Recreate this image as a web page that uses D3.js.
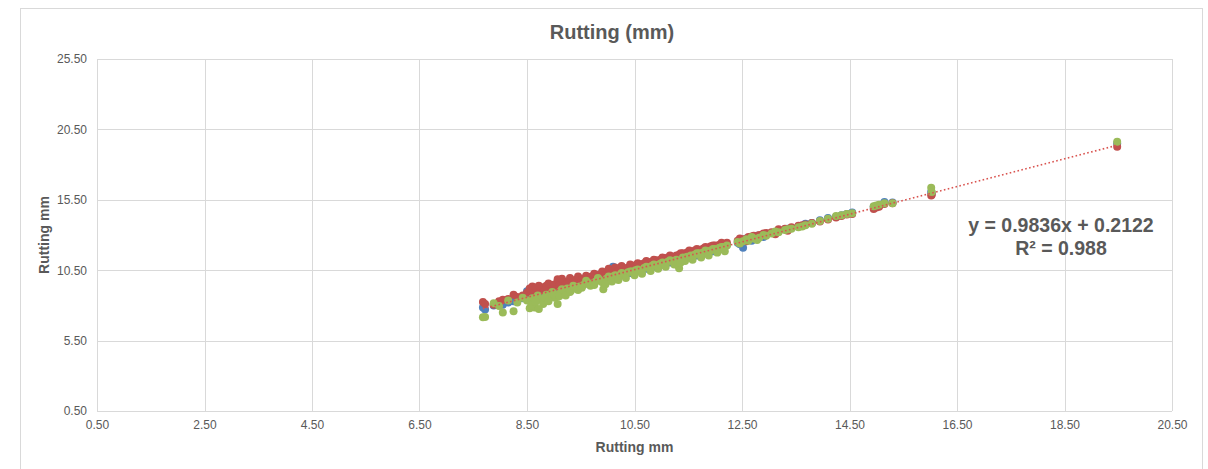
<!DOCTYPE html>
<html>
<head>
<meta charset="utf-8">
<script src="https://cdn.jsdelivr.net/npm/d3@7"></script>
<style>
  body { margin: 0; background: #fff; }
  svg { display: block; font-family: "Liberation Sans", Arial, sans-serif; }
</style>
</head>
<body>
<div id="chart"></div>
<script>
// shared x values (Rutting mm)
const xs = [7.68, 7.72, 7.88, 7.98, 8.05, 8.15, 8.25, 8.32, 8.42, 8.55, 8.60, 8.64, 8.70, 8.75, 8.80, 8.86, 8.92, 8.97,
  9.02, 9.07, 9.12, 9.18, 9.25, 9.32, 9.40, 9.48, 9.55, 9.62, 9.70, 9.78, 9.85, 9.92, 9.98, 10.05, 10.10, 10.16,
  10.22, 10.30, 10.38, 10.45, 10.52, 10.60, 10.68, 10.75, 10.82, 10.90, 10.98, 11.05, 11.12, 11.20, 11.28, 11.33,
  11.40, 11.48, 11.55, 11.62, 11.70, 11.78, 11.85, 11.92, 12.00, 12.08, 12.15, 12.22, 12.42, 12.52, 12.62, 12.72,
  12.82, 12.95, 13.05, 13.18, 13.30, 13.42, 13.55, 13.68, 13.80, 13.95, 14.10, 14.25, 14.45, 14.55, 14.95, 15.05,
  15.15, 15.30, 16.02, 16.03, 19.48,
  8.50, 8.58, 8.66, 8.72, 8.83, 8.90, 9.00, 9.10, 9.15, 9.22, 9.30, 9.36, 9.45, 9.52, 9.60, 9.68, 9.75, 9.82,
  9.90, 9.96, 10.02, 10.08, 10.14, 10.20, 10.26, 10.34, 10.42, 10.50, 10.56, 10.64, 10.72, 10.80, 10.86, 10.94,
  11.02, 11.08, 11.16, 11.24, 11.36, 11.44, 11.52, 11.58, 11.66, 11.74, 11.82, 11.88, 11.96, 12.04, 12.12, 12.18,
  12.46, 12.58, 12.68, 12.78, 12.90, 13.12, 13.35, 13.62, 14.35, 15.00];

const blueY = [7.85, 7.70, 8.00, 8.10, 8.05, 8.20, 8.30, 8.45, 8.50, 8.70, 8.55, 8.80, 8.90, 8.75, 9.00, 8.95, 9.10, 9.05,
  9.20, 9.10, 9.35, 9.30, 9.45, 9.40, 9.55, 9.60, 9.75, 9.70, 9.85, 9.95, 9.90, 10.05, 10.15, 10.20, 10.75, 10.30,
  10.35, 10.45, 10.50, 10.60, 10.65, 10.70, 10.85, 10.90, 10.95, 11.05, 11.10, 11.20, 11.25, 11.30, 11.40, 11.45,
  11.50, 11.60, 11.65, 11.70, 11.80, 11.90, 11.95, 12.05, 12.10, 12.15, 12.20, 12.30, 12.45, 12.10, 12.70, 12.80,
  12.90, 13.05, 13.15, 13.25, 13.40, 13.50, 13.60, 13.80, 13.85, 14.05, 14.20, 14.30, 14.50, 14.60, 15.00, 15.10,
  15.35, 15.30, 16.05, 15.95, 19.50,
  9.00, 8.40, 9.10, 8.60, 9.15, 8.70, 9.30, 9.55, 9.00, 9.65, 9.20, 9.70, 9.40, 9.90, 9.55, 10.00, 9.60, 10.10,
  9.75, 10.25, 9.85, 10.40, 10.05, 10.55, 10.15, 10.60, 10.30, 10.70, 10.45, 10.90, 10.60, 11.05, 10.75, 11.15,
  10.90, 11.30, 11.05, 11.45, 11.30, 11.60, 11.40, 11.75, 11.55, 11.90, 11.70, 12.05, 11.85, 12.15, 12.00, 12.30,
  12.35, 12.75, 12.60, 12.95, 12.85, 13.20, 13.45, 13.65, 14.40, 15.05];

const redY = [8.25, 8.10, 8.05, 8.30, 8.40, 8.45, 8.75, 8.60, 8.70, 9.20, 9.35, 8.95, 9.10, 9.30, 9.25, 9.40, 9.20, 9.45,
  9.50, 9.85, 9.55, 9.70, 9.60, 9.75, 9.80, 9.90, 9.85, 10.00, 10.05, 10.10, 10.20, 10.30, 10.25, 10.45, 10.40, 10.50,
  10.55, 10.60, 10.70, 10.75, 10.85, 10.90, 11.00, 11.05, 11.10, 11.20, 11.25, 11.30, 11.40, 11.45, 11.55, 11.60,
  11.70, 11.75, 11.80, 11.90, 11.95, 12.05, 12.10, 12.20, 12.25, 12.30, 12.35, 12.45, 12.60, 12.70, 12.85, 12.95,
  13.00, 13.15, 13.20, 13.40, 13.45, 13.55, 13.65, 13.75, 13.85, 13.95, 14.10, 14.25, 14.45, 14.50, 14.85, 15.00,
  15.20, 15.25, 15.80, 15.85, 19.27,
  8.90, 9.05, 9.25, 9.40, 9.05, 9.55, 9.30, 9.40, 9.90, 9.50, 9.95, 9.65, 10.05, 9.80, 10.10, 9.95, 10.25, 10.05,
  10.40, 10.15, 10.60, 10.40, 10.70, 10.45, 10.80, 10.60, 10.90, 10.70, 11.00, 10.85, 11.15, 11.00, 11.25, 11.10,
  11.40, 11.25, 11.55, 11.40, 11.70, 11.60, 11.90, 11.75, 12.00, 11.90, 12.15, 12.05, 12.25, 12.20, 12.45, 12.30,
  12.75, 12.55, 12.90, 12.75, 13.10, 13.05, 13.30, 13.70, 14.35, 14.95];

const greenY = [7.15, 7.18, 8.15, 7.95, 7.50, 8.35, 7.58, 8.20, 8.55, 7.80, 8.50, 7.85, 8.70, 8.40, 8.10, 8.75, 8.60, 8.95,
  8.55, 8.10, 9.00, 8.85, 9.20, 9.05, 9.30, 9.35, 9.45, 9.60, 9.55, 9.70, 9.80, 9.15, 9.90, 9.95, 10.05, 10.00,
  10.15, 10.25, 10.35, 10.40, 10.50, 10.45, 10.65, 10.70, 10.80, 10.85, 10.95, 11.00, 11.10, 11.15, 11.25, 10.63,
  11.40, 11.45, 11.55, 11.60, 11.70, 11.75, 11.85, 11.90, 12.00, 12.10, 12.15, 12.25, 12.50, 12.55, 12.60, 12.75,
  12.80, 12.95, 13.10, 13.20, 13.35, 13.45, 13.55, 13.70, 13.80, 14.00, 14.15, 14.35, 14.50, 14.55, 15.05, 15.15,
  15.25, 15.25, 16.35, 16.05, 19.62,
  8.35, 8.00, 8.25, 7.75, 8.55, 8.30, 8.80, 8.65, 9.15, 8.70, 8.95, 9.40, 9.10, 9.25, 9.75, 9.40, 9.45, 9.95,
  9.65, 9.50, 10.05, 9.70, 10.15, 9.80, 10.30, 9.95, 10.40, 10.15, 10.55, 10.25, 10.75, 10.45, 10.90, 10.60,
  11.05, 10.75, 11.20, 10.90, 11.05, 11.15, 11.45, 11.25, 11.70, 11.40, 11.90, 11.55, 12.00, 11.75, 12.15, 11.85,
  12.40, 12.70, 12.85, 12.65, 13.00, 13.25, 13.40, 13.60, 14.40, 15.10];

const xTicks = [0.5, 2.5, 4.5, 6.5, 8.5, 10.5, 12.5, 14.5, 16.5, 18.5, 20.5];
const yTicks = [0.5, 5.5, 10.5, 15.5, 20.5, 25.5];
const slope = 0.9836, intercept = 0.2122;

const width = 1208, height = 469;
const margin = {top: 59, right: 36, bottom: 57, left: 97};

const svg = d3.select('#chart')
  .append('svg')
    .attr('width', width)
    .attr('height', height);

// outer chart frame
svg.append('rect')
  .attr('x', 20.5).attr('y', 8.5)
  .attr('width', 1182).attr('height', 480)
  .attr('fill', 'none')
  .attr('stroke', '#d9d9d9');

const x = d3.scaleLinear()
  .domain([0.5, 20.5])
  .range([margin.left, width - margin.right]);

const y = d3.scaleLinear()
  .domain([0.5, 25.5])
  .range([height - margin.bottom - 1, margin.top]);

// gridlines
svg.append('g')
  .attr('stroke', '#d9d9d9')
  .attr('stroke-width', 1)
  .selectAll('line.v')
  .data(xTicks)
  .join('line')
    .attr('x1', d => Math.round(x(d)) + 0.5)
    .attr('x2', d => Math.round(x(d)) + 0.5)
    .attr('y1', y(25.5))
    .attr('y2', y(0.5));

svg.append('g')
  .attr('stroke', '#d9d9d9')
  .attr('stroke-width', 1)
  .selectAll('line.h')
  .data(yTicks)
  .join('line')
    .attr('x1', x(0.5))
    .attr('x2', x(20.5))
    .attr('y1', d => Math.round(y(d)) + 0.5)
    .attr('y2', d => Math.round(y(d)) + 0.5);

// axes (labels only)
function xAxis(g) {
  g.attr('transform', `translate(0, ${y(0.5)})`)
    .call(d3.axisBottom(x).tickValues(xTicks).tickFormat(d3.format('.2f')).tickSize(0).tickPadding(9))
    .call(g => g.select('.domain').remove())
    .attr('font-size', '12px')
    .attr('font-family', '"Liberation Sans", Arial, sans-serif')
    .attr('color', '#595959');
}
function yAxis(g) {
  g.attr('transform', `translate(${x(0.5)}, 0)`)
    .call(d3.axisLeft(y).tickValues(yTicks).tickFormat(d3.format('.2f')).tickSize(0).tickPadding(10))
    .call(g => g.select('.domain').remove())
    .attr('font-size', '12px')
    .attr('font-family', '"Liberation Sans", Arial, sans-serif')
    .attr('color', '#595959');
}
svg.append('g').call(xAxis);
svg.append('g').call(yAxis);

// series
const series = [
  {name: 'blue', values: blueY, color: '#4f81bd'},
  {name: 'red', values: redY, color: '#c0504d'},
  {name: 'green', values: greenY, color: '#9bbb59'}
];

series.forEach(s => {
  svg.append('g')
    .attr('fill', s.color)
    .selectAll('circle')
    .data(xs.map((d, i) => [d, s.values[i]]))
    .join('circle')
      .attr('cx', d => x(d[0]))
      .attr('cy', d => y(d[1]))
      .attr('r', 4);
});

// trendline
const xMin = d3.min(xs), xMax = d3.max(xs);
svg.append('line')
  .attr('x1', x(xMin))
  .attr('y1', y(slope * xMin + intercept))
  .attr('x2', x(xMax))
  .attr('y2', y(slope * xMax + intercept))
  .attr('stroke', '#d9534f')
  .attr('stroke-width', 1.6)
  .attr('stroke-dasharray', '1.6,2.4');

// equation
svg.append('text')
  .attr('x', 1061).attr('y', 232)
  .attr('text-anchor', 'middle')
  .attr('font-size', '19.5px').attr('font-weight', 'bold')
  .attr('fill', '#595959')
  .text('y = 0.9836x + 0.2122');
svg.append('text')
  .attr('x', 1061).attr('y', 255)
  .attr('text-anchor', 'middle')
  .attr('font-size', '19.5px').attr('font-weight', 'bold')
  .attr('fill', '#595959')
  .text('R² = 0.988');

// titles
svg.append('text')
  .attr('x', 612).attr('y', 39)
  .attr('text-anchor', 'middle')
  .attr('font-size', '20px').attr('font-weight', 'bold')
  .attr('fill', '#595959')
  .text('Rutting (mm)');

svg.append('text')
  .attr('x', (x(0.5) + x(20.5)) / 2).attr('y', 452)
  .attr('text-anchor', 'middle')
  .attr('font-size', '14px').attr('font-weight', 'bold')
  .attr('fill', '#595959')
  .text('Rutting mm');

svg.append('text')
  .attr('transform', `translate(49, ${(y(0.5) + y(25.5)) / 2}) rotate(-90)`)
  .attr('text-anchor', 'middle')
  .attr('font-size', '14px').attr('font-weight', 'bold')
  .attr('fill', '#595959')
  .text('Rutting mm');
</script>
</body>
</html>
